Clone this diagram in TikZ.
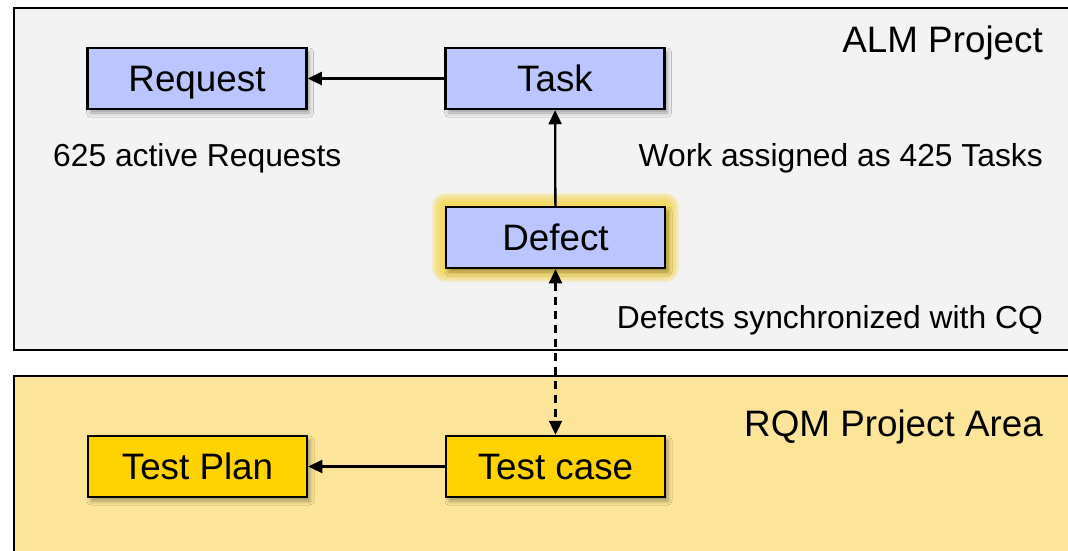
\documentclass[tikz,border=0pt]{standalone}
\usepackage{fontspec}
\setmainfont{Liberation Sans}
\usetikzlibrary{arrows.meta,shadows.blur}
\definecolor{topfill}{HTML}{F3F3F3}
\definecolor{botfill}{HTML}{FCE598}
\definecolor{bluefill}{HTML}{BBC5FE}
\definecolor{yelfill}{HTML}{FFD300}
\definecolor{glowc}{HTML}{F7D64E}
\tikzset{
  panel/.style={draw=black, line width=2.3pt},
  box/.style={draw=black, line width=2.5pt, minimum width=219pt, minimum height=61pt,
    inner sep=0pt, text height=26.3pt, text depth=0pt,
    font=\fontsize{36.8}{40}\selectfont,
    blur shadow={shadow xshift=3pt, shadow yshift=-4pt, shadow blur radius=4pt, shadow opacity=35}},
  bluebox/.style={box, fill=bluefill},
  yelbox/.style={box, fill=yelfill},
  lbl/.style={inner sep=0pt, font=\fontsize{31.8}{36}\selectfont},
  ttl/.style={inner sep=0pt, font=\fontsize{36.8}{40}\selectfont},
  tip/.style={Triangle[length=14pt,width=13pt]},
  arr/.style={line width=2.3pt, -{Triangle[length=14pt,width=13pt]}},
}
\begin{document}
\begin{tikzpicture}[x=1pt,y=-1pt]
\useasboundingbox (0,0) rectangle (1068,550);
\clip (0,0) rectangle (1068,550);
\fill[white] (0,0) rectangle (1068,550);
% panels
\draw[panel, fill=topfill] (14,8) rectangle (1080,350);
\draw[panel, fill=botfill] (14,376) rectangle (1080,570);
% glow behind Defect
\foreach \d in {14,12,10,8,6,4,2}
  \fill[glowc, opacity=0.28, rounded corners=\d pt] (446-\d,207-\d) rectangle (665+\d,268+\d);
% boxes
\node[bluebox] (req) at (197,78.5) {Request};
\node[bluebox] (task) at (555,78.5) {Task};
\node[bluebox] (def) at (555.5,237.5) {Defect};
\node[yelbox] (tp) at (197.5,466.5) {Test Plan};
\node[yelbox] (tc) at (555.5,466.5) {Test case};
% labels
\node[ttl, anchor=base east] (t1) at (1043,52) {ALM Project};
\node[ttl, anchor=base east] (t2) at (1043,436) {RQM Project Area};
\node[lbl, anchor=base west] (l1) at (53,166) {625 active Requests};
\node[lbl, anchor=base east] (l2) at (1043,166) {Work assigned as 425 Tasks};
\node[lbl, anchor=base east] (l3) at (1043,328) {Defects synchronized with CQ};
% connectors
\draw[arr] (task) -- (req);
\draw[arr] (def) -- (task);
\draw[line width=2.3pt, dash pattern=on 8pt off 6pt,
  {Triangle[length=14pt,width=13pt]}-{Triangle[length=14pt,width=13pt]}] (def) -- (tc);
\draw[arr] (tc) -- (tp);
\end{tikzpicture}
\end{document}
